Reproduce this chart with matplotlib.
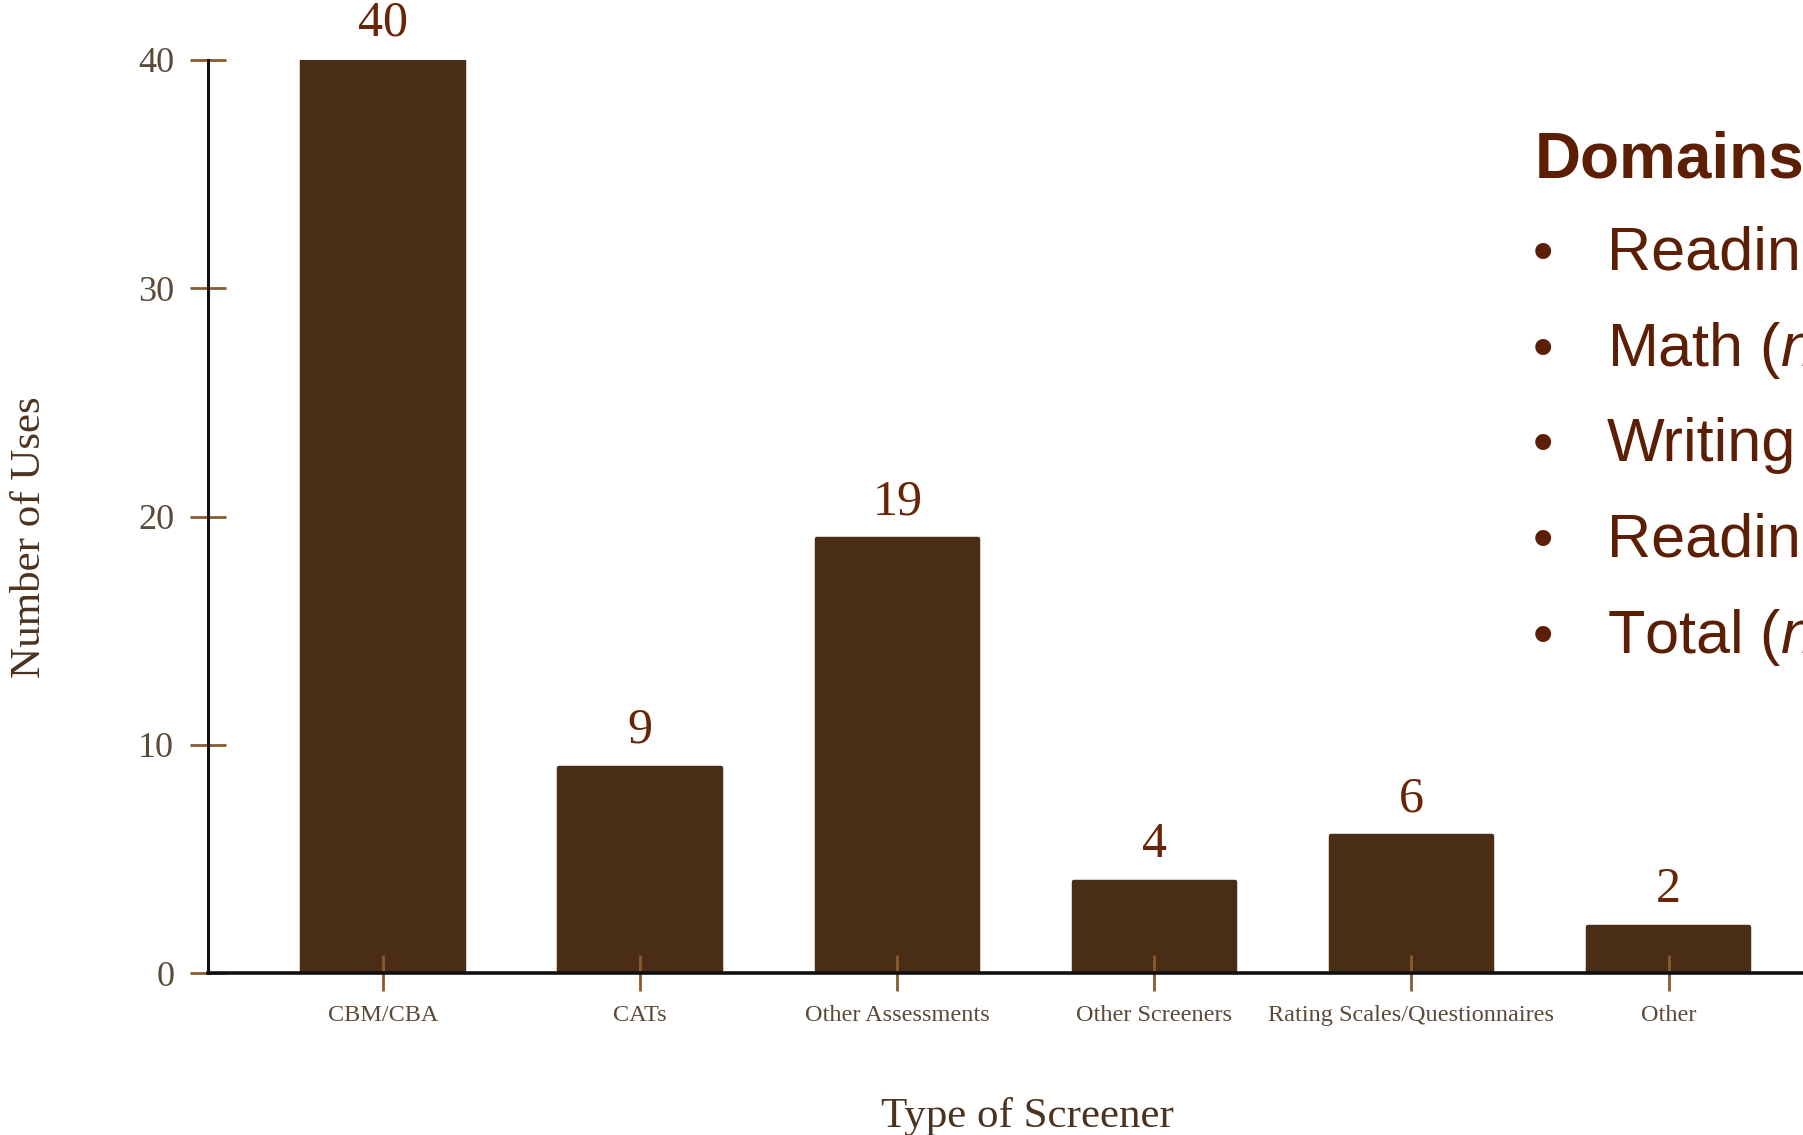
import matplotlib
matplotlib.use("Agg")
import matplotlib.pyplot as plt

# screener types and how often each was used
screeners = ["CBM/CBA", "CATs", "Other Assessments", "Other Screeners",
             "Rating Scales/Questionnaires", "Other"]
uses = [40, 9, 19, 4, 6, 2]
y_ticks = [0, 10, 20, 30, 40]

# side panel listing the domains
domains_title = "Domains"
domains = ["Reading", "Math ($n$", "Writing", "Reading", "Total ($n$"]

BAR = "#4a2d15"
VALUE = "#6a2408"
TICK_LABEL = "#5b4a38"
TICK = "#8a5a2e"
AXIS_LABEL = "#4b3320"
DOMAIN = "#5c1f04"

plt.rcParams["font.family"] = ["Liberation Serif", "DejaVu Serif"]
plt.rcParams["mathtext.fontset"] = "custom"
plt.rcParams["mathtext.rm"] = "Liberation Sans"
plt.rcParams["mathtext.it"] = "Liberation Sans:italic"

W, H = 1803, 1135
fig = plt.figure(figsize=(W / 100, H / 100), dpi=100)
fig.patch.set_facecolor("white")
ax = fig.add_axes([208 / W, 162 / H, 1 - 208 / W, 913 / H])

x = list(range(len(screeners)))
# thick edge in the fill colour with round joins softens the bar corners
ax.bar(x, uses, width=0.628, color=BAR, edgecolor=BAR,
       linewidth=3.2, joinstyle="round", zorder=1)

for xi, v in zip(x, uses):
    ax.annotate(str(v), (xi, v), xytext=(0, 18), textcoords="offset points",
                ha="center", va="baseline", fontsize=36, color=VALUE,
                annotation_clip=False)

ax.set_xlim(-0.681, 5.523)
ax.set_ylim(0, 40)
ax.set_yticks(y_ticks)
ax.set_xticks(x)
ax.set_xticklabels(screeners)

for side in ("top", "right"):
    ax.spines[side].set_visible(False)
ax.spines["left"].set_color("#111111")
ax.spines["left"].set_linewidth(2.2)
ax.spines["bottom"].set_color("#111111")
ax.spines["bottom"].set_linewidth(2.6)

ax.tick_params(axis="both", direction="inout", length=26.5, width=2,
               color=TICK)
ax.tick_params(axis="y", pad=11, labelsize=26, labelcolor=TICK_LABEL)
ax.tick_params(axis="x", pad=10, labelsize=17.5, labelcolor=TICK_LABEL)

fig.text(30 / W, 1 - 537.5 / H, "Number of Uses", rotation=90,
         ha="center", va="center", fontsize=31, color=AXIS_LABEL)
fig.text(1027 / W, 1 - 1127 / H, "Type of Screener", ha="center",
         va="baseline", fontsize=31, color=AXIS_LABEL)

# domains list, running off the right edge
sans = ["Liberation Sans", "DejaVu Sans"]
fig.text(1535 / W, 1 - 178 / H, domains_title, family=sans, weight="bold",
         fontsize=46, color=DOMAIN, va="baseline")
for i, item in enumerate(domains):
    yb = 1 - (270 + i * 95.7) / H
    fig.text(1543 / W, yb, "\u2022", family=sans, fontsize=42, color=DOMAIN,
             ha="center", va="baseline")
    fig.text(1607 / W, yb, item, family=sans, fontsize=44, color=DOMAIN,
             va="baseline")

fig.savefig("out.png", dpi=100)
